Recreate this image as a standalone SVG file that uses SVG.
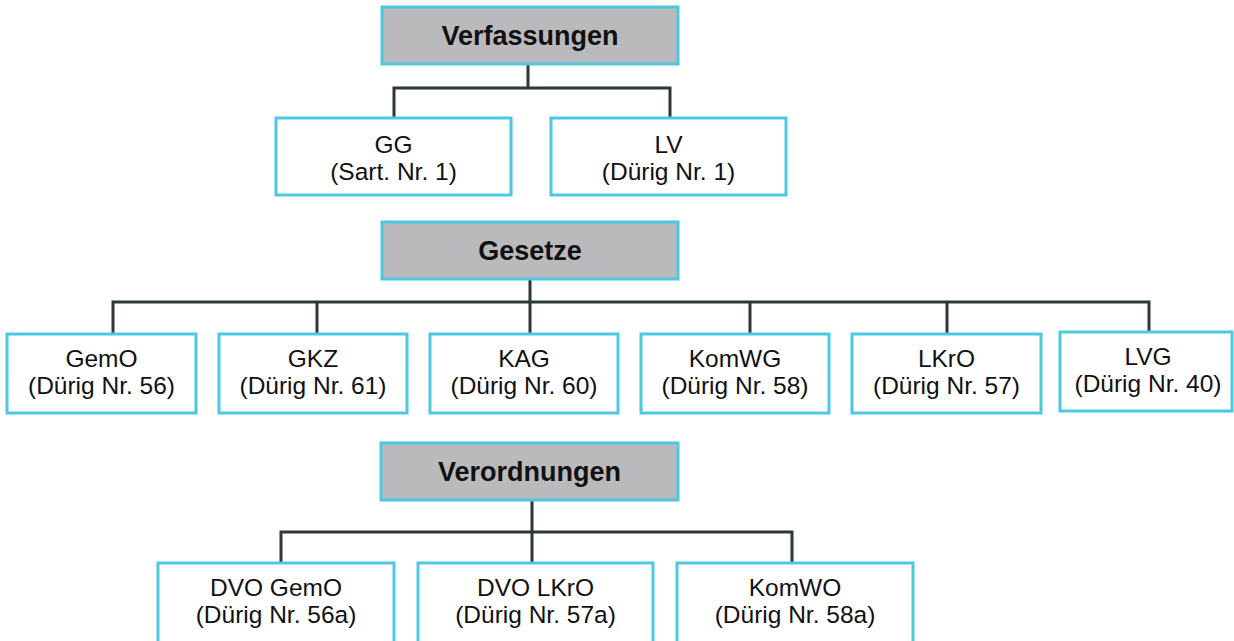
<svg xmlns="http://www.w3.org/2000/svg" width="1234" height="641" viewBox="0 0 1234 641">
<style>
.hd{fill:#bababc;stroke:#4cc8e1;stroke-width:3}
.bx{fill:#ffffff;stroke:#4cc8e1;stroke-width:3}
.ht{font-family:"Liberation Sans",Arial,sans-serif;font-weight:bold;font-size:27px;fill:#111;text-anchor:middle}
.t{font-family:"Liberation Sans",Arial,sans-serif;font-size:24.5px;fill:#111;text-anchor:middle}
.c{fill:none;stroke:#2d3838;stroke-width:3}
</style>
<rect width="1234" height="641" fill="#ffffff"/>
<g id="connectors">
<path class="c" d="M528 64V88M394 118V88H670V118"/>
<path class="c" d="M530 279V333M113 334V302H1149V332M317 302V334M750 302V334M947 302V334"/>
<path class="c" d="M532 500V562M281 562V532H792V562"/>
</g>
<g id="verfassungen"><rect class="hd" x="382" y="7" width="296" height="57"/><text class="ht" x="530" y="45">Verfassungen</text></g>
<g id="gg"><rect class="bx" x="276" y="118" width="235" height="77"/><text class="t" x="393.5" y="153">GG</text><text class="t" x="393.5" y="180">(Sart. Nr. 1)</text></g>
<g id="lv"><rect class="bx" x="551" y="118" width="235" height="77"/><text class="t" x="668.5" y="153">LV</text><text class="t" x="668.5" y="180">(Dürig Nr. 1)</text></g>
<g id="gesetze"><rect class="hd" x="382" y="222" width="296" height="57"/><text class="ht" x="530" y="260">Gesetze</text></g>
<g id="gemo"><rect class="bx" x="7" y="334" width="189" height="79"/><text class="t" x="101.5" y="367">GemO</text><text class="t" x="101.5" y="394">(Dürig Nr. 56)</text></g>
<g id="gkz"><rect class="bx" x="219" y="334" width="188" height="79"/><text class="t" x="313" y="367">GKZ</text><text class="t" x="313" y="394">(Dürig Nr. 61)</text></g>
<g id="kag"><rect class="bx" x="430" y="334" width="188" height="79"/><text class="t" x="524" y="367">KAG</text><text class="t" x="524" y="394">(Dürig Nr. 60)</text></g>
<g id="komwg"><rect class="bx" x="641" y="334" width="188" height="79"/><text class="t" x="735" y="367">KomWG</text><text class="t" x="735" y="394">(Dürig Nr. 58)</text></g>
<g id="lkro"><rect class="bx" x="852" y="334" width="189" height="79"/><text class="t" x="946.5" y="367">LKrO</text><text class="t" x="946.5" y="394">(Dürig Nr. 57)</text></g>
<g id="lvg"><rect class="bx" x="1060" y="332" width="172" height="79"/><text class="t" x="1148" y="365">LVG</text><text class="t" x="1148" y="392">(Dürig Nr. 40)</text></g>
<g id="verordnungen"><rect class="hd" x="381" y="443" width="297" height="57"/><text class="ht" x="529.5" y="481">Verordnungen</text></g>
<g id="dvo-gemo"><rect class="bx" x="158" y="563" width="236" height="82"/><text class="t" x="276" y="596">DVO GemO</text><text class="t" x="276" y="623">(Dürig Nr. 56a)</text></g>
<g id="dvo-lkro"><rect class="bx" x="418" y="563" width="235" height="82"/><text class="t" x="535.5" y="596">DVO LKrO</text><text class="t" x="535.5" y="623">(Dürig Nr. 57a)</text></g>
<g id="komwo"><rect class="bx" x="677" y="563" width="236" height="82"/><text class="t" x="795" y="596">KomWO</text><text class="t" x="795" y="623">(Dürig Nr. 58a)</text></g>
</svg>
